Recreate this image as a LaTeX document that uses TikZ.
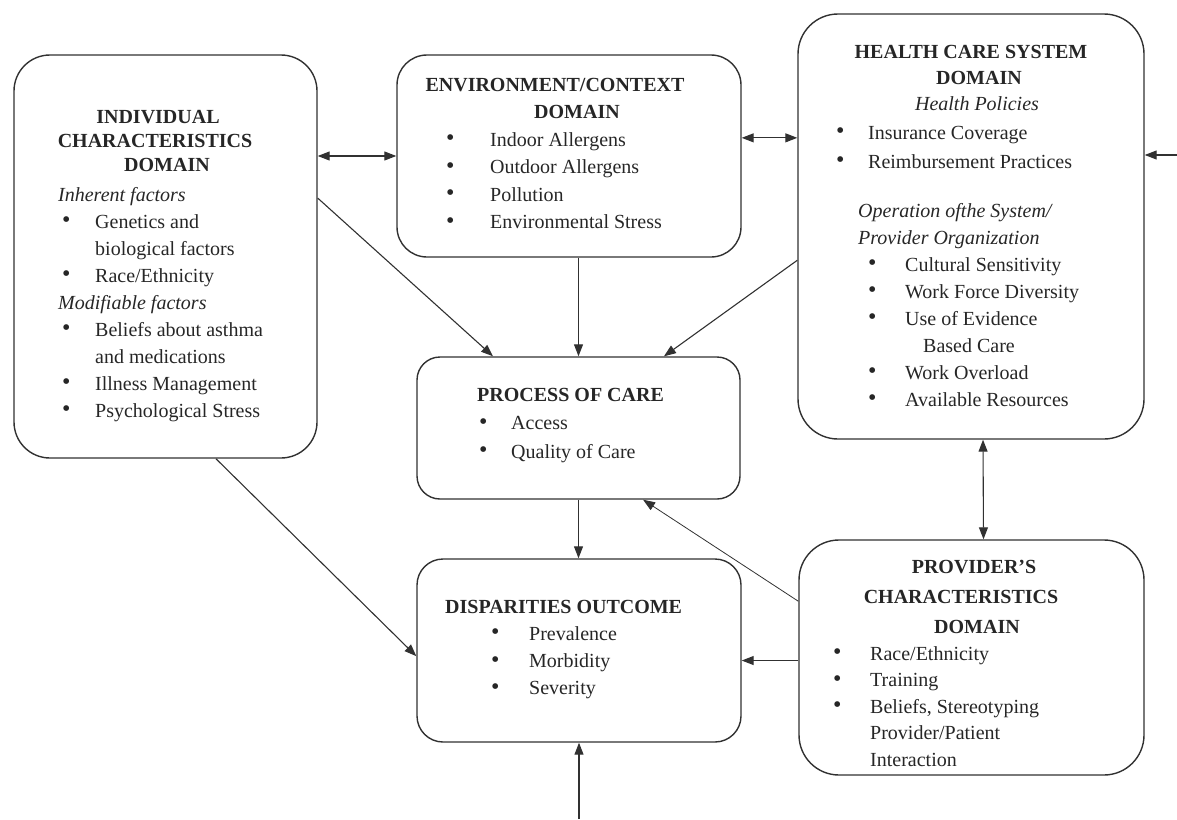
\documentclass[tikz,border=0pt]{standalone}
\usepackage{fontspec}
\setmainfont{Liberation Serif}
\usepackage{array}
\usetikzlibrary{arrows.meta}
\definecolor{ink}{HTML}{262626}
\colorlet{frame}{ink!95}
\newcommand\dotitem{\raisebox{0.5pt}{\fontsize{24}{24}\selectfont\textbullet}}

\begin{document}
\begin{tikzpicture}[
  x=1pt, y=-1pt,
  box/.style={draw=frame, line width=1.4pt, rounded corners=#1, inner sep=0pt},
  box/.default=30pt,
  txt/.style={inner sep=0pt, text=ink, anchor=base west},
  list/.style={txt, font=\fontsize{20}{#1}\selectfont},
  list/.default=27,
  head/.style={txt, anchor=base, font=\fontsize{20}{#1}\selectfont\bfseries},
  link/.style={draw=frame, line width=1.1pt, -{Triangle[length=12pt,width=9pt]}},
  both/.style={link, {Triangle[length=12pt,width=9pt]}-{Triangle[length=12pt,width=9pt]}}
]
\useasboundingbox (0,0) rectangle (1177,819);

\node[box=36pt, minimum width=303pt, minimum height=403pt] (ind) at (165.5,256.5) {};
\node[box=30pt, minimum width=344pt, minimum height=202pt] (env) at (569,156) {};
\node[box=40pt, minimum width=346pt, minimum height=425pt] (hcs) at (971,226.5) {};
\node[box=23pt, minimum width=323pt, minimum height=142pt] (proc) at (578.5,428) {};
\node[box=26pt, minimum width=324pt, minimum height=183pt] (out) at (579,650.5) {};
\node[box=40pt, minimum width=345pt, minimum height=235pt] (prov) at (971.5,657.5) {};

\node[head=24] (indhead) at (155,123) {\begin{tabular}[t]{@{}c@{}}
  \hspace*{6pt}INDIVIDUAL\\CHARACTERISTICS\\\hspace*{24pt}DOMAIN\end{tabular}};
\node[list] (indlist) at (58,201) {\begin{tabular}[t]{@{\hspace{4pt}}p{33pt}@{}l@{}}
  \multicolumn{2}{@{}l@{}}{\itshape Inherent factors}\\
  \dotitem & Genetics and\\
  & biological factors\\
  \dotitem & Race/Ethnicity\\
  \multicolumn{2}{@{}l@{}}{\itshape Modifiable factors}\\
  \dotitem & Beliefs about asthma\\
  & and medications\\
  \dotitem & Illness Management\\
  \dotitem & Psychological Stress
\end{tabular}};

\node[head=27] (envhead) at (555,91) {\begin{tabular}[t]{@{}c@{}}
  ENVIRONMENT/CONTEXT\\\hspace*{44pt}DOMAIN\end{tabular}};
\node[list=27.6] (envlist) at (446,146) {\begin{tabular}[t]{@{}p{44pt}@{}l@{}}
  \dotitem & Indoor Allergens\\
  \dotitem & Outdoor Allergens\\
  \dotitem & Pollution\\
  \dotitem & Environmental Stress
\end{tabular}};

\node[head=26] (hcshead) at (971,58) {\begin{tabular}[t]{@{}c@{}}
  HEALTH CARE SYSTEM\\\hspace*{16pt}DOMAIN\\
  \mdseries\itshape\hspace*{12pt}Health Policies\end{tabular}};
\node[list=29] (hcspol) at (836,139) {\begin{tabular}[t]{@{}p{32pt}@{}l@{}}
  \dotitem & Insurance Coverage\\
  \dotitem & Reimbursement Practices
\end{tabular}};
\node[list] (hcsorg) at (858,217) {\begin{tabular}[t]{@{\hspace{10pt}}p{37pt}@{}l@{}}
  \multicolumn{2}{@{}l@{}}{\itshape Operation ofthe System/}\\
  \multicolumn{2}{@{}l@{}}{\itshape Provider Organization}\\
  \dotitem & Cultural Sensitivity\\
  \dotitem & Work Force Diversity\\
  \dotitem & Use of Evidence\\
  & \hspace*{18pt}Based Care\\
  \dotitem & Work Overload\\
  \dotitem & Available Resources
\end{tabular}};

\node[list=28.5] (proclist) at (477,401) {\begin{tabular}[t]{@{\hspace{2pt}}p{32pt}@{}l@{}}
  \multicolumn{2}{@{}l@{}}{\bfseries PROCESS OF CARE}\\
  \dotitem & Access\\
  \dotitem & Quality of Care
\end{tabular}};

\node[list=27.3] (outlist) at (445,613) {\begin{tabular}[t]{@{\hspace{46pt}}p{38pt}@{}l@{}}
  \multicolumn{2}{@{}l@{}}{\bfseries DISPARITIES OUTCOME}\\
  \dotitem & Prevalence\\
  \dotitem & Morbidity\\
  \dotitem & Severity
\end{tabular}};

\node[head=30] (provhead) at (961,573) {\begin{tabular}[t]{@{}c@{}}
  \hspace*{26pt}PROVIDER'S\\CHARACTERISTICS\\\hspace*{32pt}DOMAIN\end{tabular}};
\node[list=26.5] (provlist) at (833,660) {\begin{tabular}[t]{@{}p{37pt}@{}l@{}}
  \dotitem & Race/Ethnicity\\
  \dotitem & Training\\
  \dotitem & Beliefs, Stereotyping\\
  & Provider/Patient\\
  & Interaction
\end{tabular}};

\coordinate (rin) at (1177,155);
\coordinate (bin) at (579,819);

\draw[both] (ind.east |- env.west) -- (env.west);
\draw[both] (env.6) -- (env.6 -| hcs.west);
\draw[link] (rin) -- (rin -| hcs.east);
\draw[link] (ind.21) -- (proc.140);
\draw[link] (proc.north |- env.south) -- (proc.north);
\draw[link] (hcs.191) -- (proc.40);
\draw[link] (proc.south) -- (proc.south |- out.north);
\draw[link] (ind.284) -- (out.182);
\draw[both] ([xshift=12pt]hcs.south) -- ([xshift=12pt]prov.north);
\draw[link, line width=0.8pt] (prov.162) -- (proc.312);
\draw[link] (prov.181) -- (prov.181 -| out.east);
\draw[link] (bin) -- (out.south);
\end{tikzpicture}
\end{document}
